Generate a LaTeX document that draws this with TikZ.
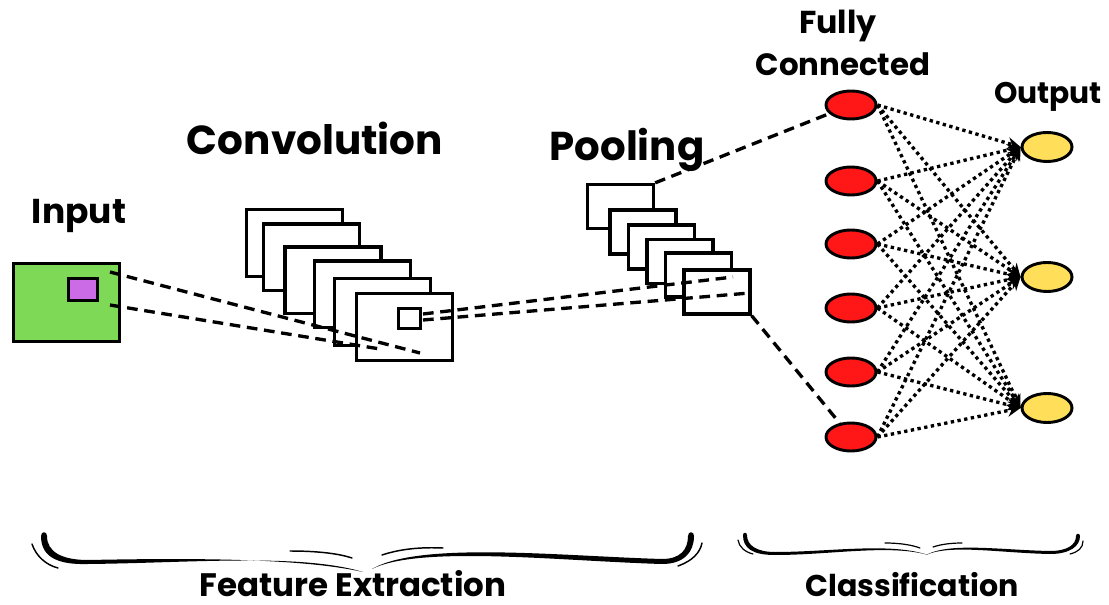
\documentclass[tikz,border=0pt]{standalone}
\usepackage{fontspec}
\newfontfamily\headfont{Poppins}
\usetikzlibrary{arrows.meta,shapes.geometric}
\definecolor{inputgreen}{HTML}{7ED957}
\definecolor{patchpurple}{HTML}{CB6CE6}
\definecolor{fcred}{HTML}{FF1616}
\definecolor{outyellow}{HTML}{FFDE59}
\newcommand\lbl[2]{\resizebox{#1}{!}{\headfont\bfseries #2}}

\begin{document}
\begin{tikzpicture}[x=0.75pt,y=-0.75pt,
  txt/.style={inner sep=0pt},
  convmap/.style={draw, fill=white, line width=2.5pt, inner sep=0pt,
    minimum width=72pt, minimum height=50pt},
  poolmap/.style={draw, fill=white, line width=2.5pt, inner sep=0pt,
    minimum width=49.5pt, minimum height=33pt},
  dashconn/.style={line width=2.5pt, dash pattern=on 8pt off 5pt},
  dotarrow/.style={line width=2.5pt, dash pattern=on 2.5pt off 2.6pt,
    -{Stealth[length=10pt,width=9pt]}},
  neuron/.style={ellipse, draw, line width=2.2pt, inner sep=0pt,
    minimum width=37.5pt, minimum height=21pt},
  thinstroke/.style={line width=1.1pt, line cap=round}]

\useasboundingbox (0,0) rectangle (1109,605);

% ---- titles ----
\node[txt] (tinput) at (79,216) {\lbl{70.5pt}{Input}};
\node[txt] (tconv)  at (315,138) {\lbl{192pt}{Convolution}};
\node[txt] (tpool)  at (627,150) {\lbl{116pt}{Pooling}};
\node[txt] (tfully) at (838,26) {\lbl{58pt}{Fully}};
\node[txt] (tconn)  at (843,64) {\lbl{131pt}{Connected}};
\node[txt] (tout)   at (1048,97) {\lbl{81pt}{Output}};
\node[txt] (tfeat)  at (353,584) {\lbl{230pt}{Feature Extraction}};
\node[txt] (tclass) at (912,585) {\lbl{160pt}{Classification}};

% ---- input image with its receptive patch ----
\node[draw, fill=inputgreen, line width=2.5pt, inner sep=0pt,
      minimum width=79.5pt, minimum height=58.5pt] (inbox) at (66.5,302.5) {};
\node[draw, fill=patchpurple, line width=2.1pt, inner sep=0pt,
      minimum width=21.75pt, minimum height=16.5pt] (patch) at (83,289.5) {};

% ---- convolution feature maps (back to front) ----
\node[convmap] (c1) at (294.5,243) {};
\node[convmap] (c2) at (311.5,257.5) {};
\node[convmap] (c3) at (333,280.5) {};
\node[convmap] (c4) at (362.5,294.5) {};
\node[convmap] (c5) at (382.5,312) {};
\node[convmap] (c6) at (404.5,327) {};
\node[draw, line width=2.5pt, inner sep=0pt,
      minimum width=16.5pt, minimum height=15pt] (kern) at (409.5,318.5) {};

% ---- pooling maps (back to front) ----
\node[poolmap] (p1) at (620.5,206.5) {};
\node[poolmap] (p2) at (643,232) {};
\node[poolmap] (p3) at (661.5,247) {};
\node[poolmap] (p4) at (680,261.5) {};
\node[poolmap] (p5) at (698.5,275) {};
\node[poolmap] (p6) at (717,292) {};

% ---- projection lines ----
\coordinate (ia) at (110,272);
\coordinate (ib) at (110,305);
\coordinate (ca) at (420,353);
\coordinate (cb) at (380,349);
\draw[dashconn] (ia) -- (ca);
\draw[dashconn] (ib) -- (cb);

\coordinate (ka) at (423,314);
\coordinate (kb) at (423,320);
\coordinate (pa) at (733,277);
\coordinate (pb) at (750,293);
\draw[dashconn] (ka) -- (pa);
\draw[dashconn] (kb) -- (pb);

% ---- fully connected layer ----
\foreach \i/\y in {1/105,2/181,3/244,4/308,5/372,6/437}
  \node[neuron, fill=fcred] (r\i) at (851,\y) {};
\foreach \j/\y in {1/147,2/277,3/408}
  \node[neuron, fill=outyellow, minimum height=21.75pt] (o\j) at (1047,\y) {};

\draw[dashconn] (p1.north east) -- (r1);
\draw[dashconn] (p6.south east) -- (r6);

\foreach \i in {1,...,6}
  \foreach \j in {1,2,3}
    \draw[dotarrow] (r\i.east) -- (o\j.west);

% ---- brace under the feature extraction stage ----
\fill (41,536) .. controls (41,556) and (56,565) .. (88,564)
  .. controls (190,563) and (300,553) .. (363,572)
  .. controls (300,558) and (190,558) .. (88,560)
  .. controls (62,560) and (47,552) .. (47,536)
  .. controls (47,531) and (41,531) .. (41,536) -- cycle;
\fill (372,569) .. controls (420,545) and (560,561) .. (662,564)
  .. controls (684,564) and (694,552) .. (694,536)
  .. controls (694,531) and (688,531) .. (688,536)
  .. controls (688,550) and (680,559) .. (662,559)
  .. controls (560,556) and (420,541) .. (372,569) -- cycle;
\draw[thinstroke] (32,544) .. controls (36,556) and (46,565) .. (58,568);
\draw[thinstroke] (290,551) .. controls (320,551) and (340,554) .. (352,558);
\draw[thinstroke] (382,555) .. controls (400,549) and (420,547) .. (443,548);
\draw[thinstroke] (702,543) .. controls (700,553) and (692,561) .. (678,566);

% ---- brace under the classification stage ----
\fill (743,535) .. controls (743,548) and (752,555) .. (775,555)
  .. controls (830,555) and (890,544) .. (928,555)
  .. controls (890,542) and (830,552) .. (775,552)
  .. controls (756,552) and (747,545) .. (747,535)
  .. controls (747,532) and (743,532) .. (743,535) -- cycle;
\fill (926,555) .. controls (950,544) and (1000,553) .. (1050,554)
  .. controls (1070,554) and (1080,546) .. (1080,536)
  .. controls (1080,533) and (1076,533) .. (1076,536)
  .. controls (1076,545) and (1067,551) .. (1050,551)
  .. controls (1000,550) and (950,542) .. (926,555) -- cycle;
\draw[thinstroke, line width=0.9pt] (738,540) .. controls (739,547) and (745,552) .. (753,554);
\draw[thinstroke, line width=0.9pt] (885,543) .. controls (900,543) and (912,545) .. (920,548);
\draw[thinstroke, line width=0.9pt] (933,547) .. controls (942,544) and (952,543) .. (962,543);
\draw[thinstroke, line width=0.9pt] (1083,541) .. controls (1083,548) and (1078,552) .. (1070,554);
\end{tikzpicture}
\end{document}
